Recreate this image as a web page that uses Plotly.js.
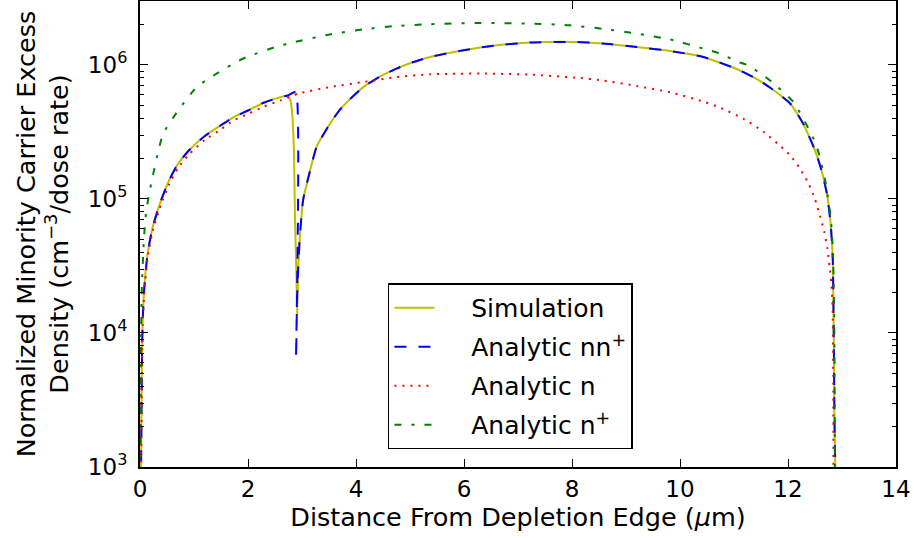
<!DOCTYPE html>
<html>
<head>
<meta charset="utf-8">
<script src="https://cdn.plot.ly/plotly-3.0.1.min.js"></script>
<style>
  html, body { margin: 0; padding: 0; background: #fff; }
  #chart { width: 915px; height: 538px; }
</style>
</head>
<body>
<div id="chart"></div>
<script>
// Distance from the depletion edge (um) and excess carrier density (cm^-3 per dose rate)

// Simulation
const simX = [0.015, 0.02, 0.03, 0.037, 0.05, 0.08, 0.14, 0.235, 0.39, 0.54, 0.7, 0.9, 1.2, 1.5, 1.73, 2.0, 2.3, 2.6, 2.72,
  2.78, 2.81, 2.85, 2.87, 2.9, 2.91, 2.93, 2.96, 3.02, 3.12, 3.27, 3.52, 3.7, 3.89, 4.14, 4.45, 4.75, 5.05, 5.37, 5.99,
  6.61, 7.22, 8.02, 8.58, 9.2, 9.82, 10.43, 11.05, 11.4, 11.67, 12.04, 12.28, 12.5, 12.62, 12.72, 12.79, 12.83, 12.84,
  12.85, 12.86, 12.875, 12.88];
const simY = [316, 1000, 3311, 7079, 12450, 21880, 38900, 61660, 97720, 138000, 182000, 229000, 295000, 355000, 407000,
  457000, 525000, 575000, 589000, 550000, 473000, 231000, 73450, 23390, 13960, 30900, 52000, 97700, 145900, 244300,
  365600, 462400, 555900, 685500, 822200, 939700, 1047000, 1148000, 1288000, 1403000, 1469000, 1486000, 1445000,
  1361000, 1271000, 1148000, 933300, 794300, 676100, 515200, 365600, 230700, 163700, 109600, 65460, 34670, 17540,
  7413, 2360, 1000, 316];

// Analytic nn+
const nnpX = [0.015, 0.02, 0.03, 0.037, 0.05, 0.08, 0.14, 0.235, 0.39, 0.54, 0.7, 0.9, 1.2, 1.5, 1.73, 2.0, 2.3, 2.6, 2.72,
  2.8, 2.89, 2.89, 2.91, 2.93, 2.96, 3.02, 3.12, 3.27, 3.52, 3.7, 3.89, 4.14, 4.45, 4.75, 5.05, 5.37, 5.99, 6.61, 7.22,
  8.02, 8.58, 9.2, 9.82, 10.43, 11.05, 11.4, 11.67, 12.04, 12.28, 12.5, 12.62, 12.72, 12.79, 12.83, 12.84, 12.85, 12.86,
  12.875, 12.88];
const nnpY = [316, 1000, 3311, 7079, 12450, 21880, 38900, 61660, 97720, 138000, 182000, 229000, 295000, 355000, 407000,
  457000, 525000, 575000, 589000, 609500, 631000, 6457, 19000, 30900, 52000, 97700, 145900, 244300, 365600, 462400,
  555900, 685500, 822200, 939700, 1047000, 1148000, 1288000, 1403000, 1469000, 1486000, 1445000, 1361000, 1271000,
  1148000, 933300, 794300, 676100, 515200, 365600, 230700, 163700, 109600, 65460, 34670, 17540, 7413, 2360, 1000, 316];

// Analytic n
const nX = [0.015, 0.02, 0.03, 0.037, 0.05, 0.08, 0.14, 0.235, 0.39, 0.54, 0.7, 0.9, 1.2, 1.5, 1.73, 2.0, 2.3, 2.6, 2.94,
  3.53, 4.14, 4.75, 5.37, 6.3, 7.22, 8.13, 8.58, 9.2, 9.82, 10.43, 10.74, 11.17, 11.55, 11.91, 12.04, 12.22, 12.38, 12.5,
  12.59, 12.67, 12.73, 12.77, 12.8, 12.82, 12.83, 12.838, 12.842, 12.845];
const nY = [316, 891, 2818, 6310, 11480, 20420, 36310, 57540, 91200, 128800, 169800, 213800, 275400, 331100, 384600,
  431500, 489800, 543300, 612400, 685500, 746400, 812800, 851100, 863000, 847200, 799800, 765600, 696600, 625200,
  533300, 480800, 398100, 316200, 237700, 211800, 168700, 130300, 99540, 75160, 57150, 42360, 31620, 23770, 17780,
  13180, 4169, 1000, 316];

// Analytic n+
const npX = [0.008, 0.012, 0.016, 0.02, 0.03, 0.037, 0.06, 0.08, 0.11, 0.16, 0.22, 0.34, 0.43, 0.71, 1.05, 1.27, 1.73,
  1.98, 2.51, 2.82, 3.53, 4.14, 4.75, 5.37, 6.3, 7.22, 7.96, 8.58, 9.2, 9.82, 10.43, 10.74, 11.05, 11.24, 11.48, 11.7,
  12.1, 12.38, 12.5, 12.58, 12.7, 12.79, 12.83, 12.85, 12.86, 12.865, 12.87];
const npY = [316, 1000, 3981, 8913, 17780, 23440, 39810, 56230, 77620, 104700, 138000, 229100, 307600, 459200, 685500,
  790700, 1023000, 1148000, 1361000, 1469000, 1694000, 1845000, 1954000, 2014000, 2056000, 2037000, 1977000, 1858000,
  1714000, 1549000, 1324000, 1216000, 1064000, 1000000, 871000, 746400, 529700, 335000, 266100, 211800, 130300, 73450,
  41400, 20840, 7413, 2512, 316];

// Axis ticks
const xTicks = [0, 2, 4, 6, 8, 10, 12, 14];
const yTicks = [1e3, 1e4, 1e5, 1e6];
const yTickText = ['10<sup>3</sup>', '10<sup>4</sup>', '10<sup>5</sup>', '10<sup>6</sup>'];

const seriesNames = ['Simulation', 'Analytic nn<sup>+</sup>', 'Analytic n', 'Analytic n<sup>+</sup>'];

// minor ticks at 2..9 of every decade inside the plotted range
const yMinor = [];
for (let d = 3; d <= 6; d++) {
  for (let k = 2; k <= 9; k++) {
    const v = k * Math.pow(10, d);
    if (v <= 3.0e6) yMinor.push(v);
  }
}

const FONT = 'DejaVu Sans, sans-serif';
const SMOOTH = 0.5;
// gap between the legend line sample and its label
const PAD = '\u00a0\u00a0\u00a0\u00a0';

const traces = [
  { x: simX, y: simY, name: PAD + seriesNames[0], legendgroup: 'a',
    mode: 'lines', line: { color: '#bfbf00', width: 2, shape: 'spline', smoothing: SMOOTH } },
  { x: nnpX, y: nnpY, name: PAD + seriesNames[1], legendgroup: 'b',
    mode: 'lines', line: { color: '#0000ff', width: 2, dash: '12px,12px', shape: 'spline', smoothing: SMOOTH } },
  { x: nX, y: nY, name: PAD + seriesNames[2], legendgroup: 'c',
    mode: 'lines', line: { color: '#ff0000', width: 2, dash: '2px,6px', shape: 'spline', smoothing: SMOOTH } },
  { x: npX, y: npY, name: PAD + seriesNames[3], legendgroup: 'd',
    mode: 'lines', line: { color: '#008000', width: 2, dash: '7px,10px,3px,10px', shape: 'spline', smoothing: SMOOTH } }
];

const layout = {
  width: 915,
  height: 538,
  margin: { l: 140, r: 19, t: 1, b: 71 },
  paper_bgcolor: '#ffffff',
  plot_bgcolor: '#ffffff',
  font: { family: FONT, color: '#000000', size: 23 },
  showlegend: true,
  legend: {
    x: 0.328, y: 0.394, xanchor: 'left', yanchor: 'top',
    bordercolor: '#000000', borderwidth: 1.5, bgcolor: '#ffffff',
    font: { family: FONT, size: 25, color: '#000000' },
    tracegroupgap: 3.5, traceorder: 'grouped', itemwidth: 40
  },
  xaxis: {
    range: [0, 14],
    tickmode: 'array', tickvals: xTicks, ticktext: xTicks.map(String),
    ticks: 'inside', ticklen: 8, tickwidth: 1, tickcolor: '#000000',
    showline: true, linewidth: 2, linecolor: '#000000', mirror: 'allticks',
    showgrid: false, zeroline: false,
    tickfont: { family: FONT, size: 23 },
    title: { text: 'Distance From Depletion Edge (<i>\u03bc</i>m)', font: { family: FONT, size: 25.5 }, standoff: 6 }
  },
  yaxis: {
    type: 'log',
    range: [3, Math.log10(3.0e6)],
    tickmode: 'array', tickvals: yTicks, ticktext: yTickText,
    ticks: 'inside', ticklen: 8, tickwidth: 1, tickcolor: '#000000',
    minor: { tickmode: 'array', tickvals: yMinor, ticks: 'inside', ticklen: 4, tickwidth: 1, tickcolor: '#000000', showgrid: false },
    showline: true, linewidth: 2, linecolor: '#000000', mirror: 'allticks',
    showgrid: false, zeroline: false,
    ticklabelstandoff: 6,
    tickfont: { family: FONT, size: 23 },
    title: { text: 'Normalized Minority Carrier Excess<br>Density (cm<sup>\u22123</sup>/dose rate)', font: { family: FONT, size: 25.5 }, standoff: 12 }
  }
};

Plotly.newPlot('chart', traces, layout, { staticPlot: true, displayModeBar: false });
</script>
</body>
</html>
